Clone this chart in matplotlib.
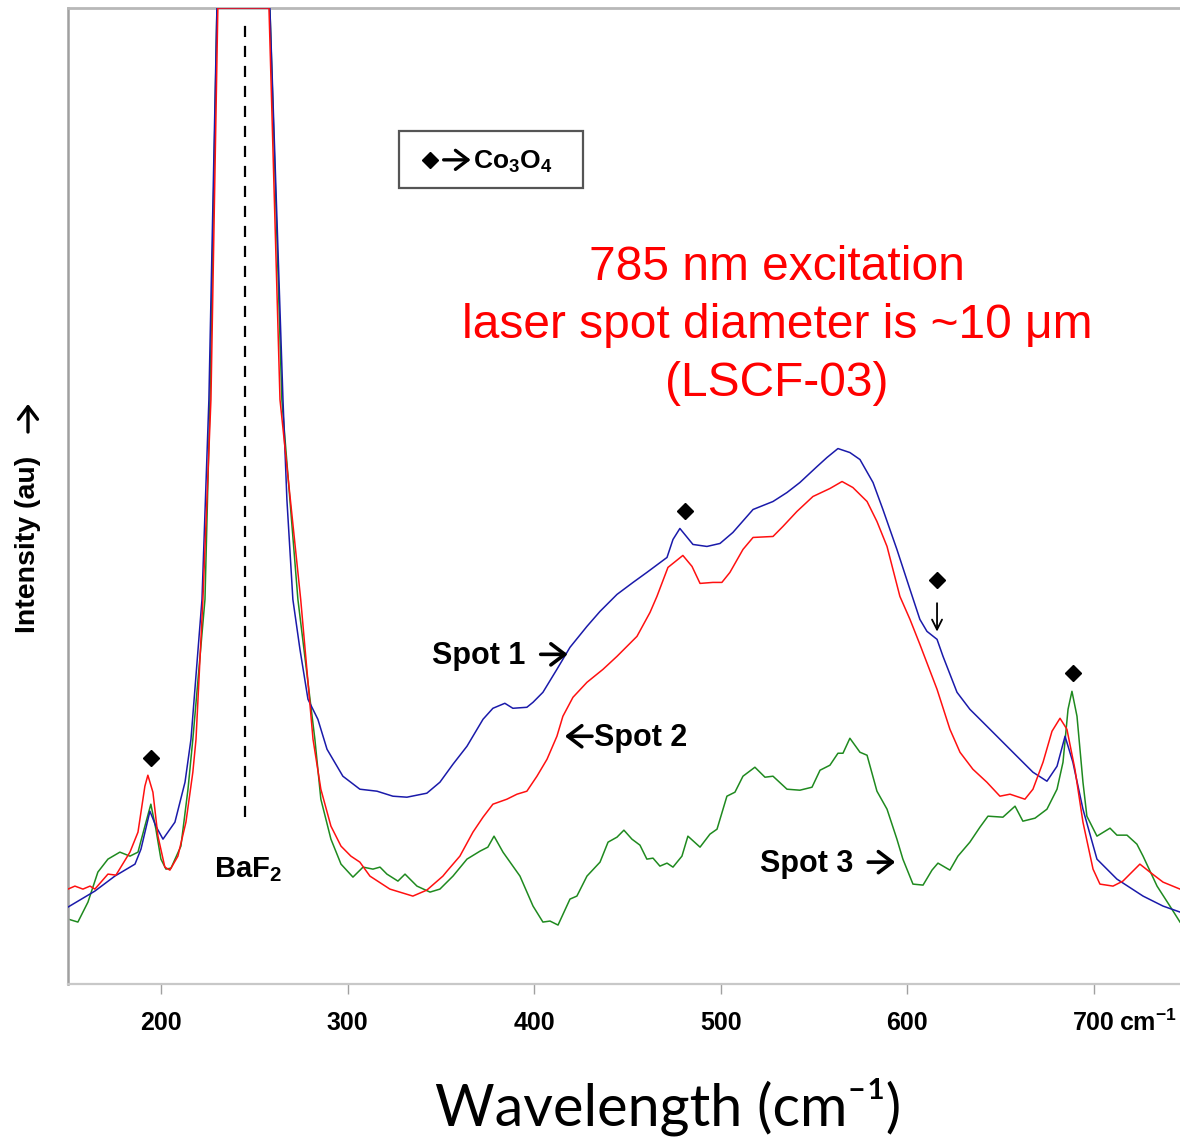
import matplotlib
matplotlib.use("Agg")
import matplotlib.pyplot as plt
from matplotlib.patches import Rectangle

plt.rcParams['font.family'] = ['Liberation Sans', 'DejaVu Sans']
plt.rcParams['mathtext.fontset'] = 'custom'
plt.rcParams['mathtext.rm'] = 'Liberation Sans'
plt.rcParams['mathtext.bf'] = 'Liberation Sans:bold'
plt.rcParams['mathtext.it'] = 'Liberation Sans:italic'

# ---------------- data (wavenumber cm-1, intensity au) ----------------
spot1_x = [150.2, 164.6, 175.3, 186.1, 189.3, 194.1, 197.3, 201.1, 207.5, 212.9, 216.1,
           222.0, 225.7, 230.0, 258.4, 265.4, 267.5, 270.7, 274.5, 278.8, 284.1, 289.0,
           297.5, 306.6, 315.8, 324.3, 331.8, 342.5, 349.5, 356.5, 364.0, 372.6, 377.9,
           384.3, 388.6, 396.1, 399.4, 404.7, 412.2, 419.2, 428.3, 435.3, 444.4, 453.0,
           460.4, 471.2, 474.4, 478.1, 485.1, 492.6, 499.6, 506.5, 517.3, 528.0, 535.5,
           542.4, 551.6, 556.9, 562.8, 569.2, 574.6, 581.6, 586.9, 594.4, 601.4, 606.7,
           610.5, 615.9, 619.1, 626.6, 633.5, 640.5, 648.0, 658.7, 667.3, 674.8, 680.2,
           684.5, 688.7, 694.1, 701.6, 712.3, 726.3, 737.0, 746.1]
spot1_y = [77, 93, 108, 120, 135, 173, 158, 145, 162, 202, 245,
           385, 585, 977, 977, 585, 485, 385, 335, 285, 265, 235,
           208, 195, 193, 188, 187, 191, 202, 220, 238, 265, 276,
           281, 276, 277, 282, 292, 315, 337, 358, 373, 390, 402,
           412, 427, 445, 456, 440, 438, 441, 452, 475, 483, 492,
           502, 518, 527, 536, 532, 525, 502, 475, 435, 395, 365,
           353, 345, 328, 292, 275, 262, 248, 228, 212, 203, 218,
           248, 222, 175, 125, 105, 88, 78, 72]

spot2_x = [150.2, 153.9, 158.2, 162.0, 164.6, 171.6, 175.9, 183.4, 187.7, 191.4, 193.0,
           195.7, 198.4, 202.1, 204.8, 209.1, 213.4, 217.1, 218.8, 222.5, 226.8, 230.5,
           257.9, 263.8, 274.9, 281.5, 285.7, 291.1, 296.5, 301.8, 306.6, 312.0, 322.7,
           335.0, 342.5, 351.1, 353.3, 360.2, 367.2, 372.6, 377.9, 385.4, 390.8, 396.1,
           401.5, 406.9, 412.2, 415.4, 420.8, 428.3, 436.9, 444.4, 455.1, 462.1, 465.8,
           471.7, 479.7, 484.6, 488.9, 495.8, 500.6, 504.9, 511.9, 517.3, 528.0, 533.3,
           540.8, 549.4, 558.5, 565.0, 570.8, 578.4, 583.7, 589.1, 596.0, 601.4, 606.7,
           615.9, 622.8, 628.2, 635.1, 642.6, 649.6, 655.0, 663.0, 667.3, 672.7, 677.5,
           681.8, 685.5, 689.8, 694.1, 699.5, 703.2, 710.2, 715.5, 724.6, 730.0, 737.0,
           746.1]
spot2_y = [95, 98, 95, 98, 95, 110, 109, 132, 152, 198, 209,
           192, 148, 117, 114, 128, 162, 212, 245, 385, 585, 977,
           977, 585, 385, 245, 195, 158, 138, 128, 122, 108, 95,
           88, 94, 108, 113, 128, 152, 167, 180, 185, 190, 193,
           208, 225, 248, 268, 287, 302, 315, 328, 348, 372, 388,
           417, 429, 418, 401, 402, 402, 412, 435, 447, 448, 458,
           473, 488, 496, 503, 497, 483, 463, 438, 388, 365, 340,
           295, 255, 232, 215, 202, 188, 190, 185, 195, 222, 253,
           266, 255, 215, 162, 115, 100, 98, 103, 120, 112, 102,
           95]

spot3_x = [150.2, 155.5, 160.9, 166.2, 171.6, 178.0, 183.4, 187.7, 191.4, 194.6, 197.3,
           200.0, 202.7, 205.4, 210.7, 214.5, 217.1, 223.6, 226.3, 230.0, 258.4, 264.8,
           273.4, 282.5, 285.7, 291.1, 296.5, 302.9, 308.3, 313.6, 317.4, 321.1, 327.0,
           330.8, 337.2, 344.2, 349.5, 356.5, 364.0, 371.0, 375.2, 378.5, 383.3, 392.4,
           399.4, 404.7, 408.5, 412.8, 419.2, 422.9, 428.3, 435.3, 439.6, 444.4, 448.1,
           452.4, 456.7, 460.4, 463.7, 467.4, 471.2, 474.4, 479.2, 482.4, 488.9, 494.2,
           498.0, 503.3, 507.6, 511.9, 518.3, 523.7, 528.0, 535.5, 542.4, 548.9, 553.2,
           558.5, 562.8, 565.5, 569.2, 574.6, 578.4, 583.7, 589.1, 594.4, 597.6, 603.0,
           608.4, 613.2, 616.4, 622.8, 627.1, 633.5, 638.9, 643.2, 651.2, 657.7, 661.9,
           668.4, 674.8, 680.2, 683.4, 686.1, 688.2, 690.9, 694.1, 696.2, 701.6, 708.6,
           712.3, 717.7, 723.0, 726.3, 733.8, 740.7, 746.1]
spot3_y = [65, 62, 82, 112, 125, 132, 128, 132, 158, 180, 155,
           125, 115, 116, 138, 195, 245, 385, 585, 977, 977, 585,
           385, 245, 185, 145, 120, 107, 117, 115, 117, 110, 103,
           110, 98, 92, 95, 108, 125, 133, 137, 148, 132, 108,
           78, 62, 63, 59, 85, 88, 108, 122, 142, 147, 154,
           145, 139, 125, 126, 118, 121, 117, 128, 148, 137, 150,
           155, 188, 192, 208, 217, 207, 208, 195, 194, 197, 214,
           219, 231, 231, 246, 232, 229, 193, 175, 145, 125, 100,
           99, 114, 121, 114, 128, 142, 157, 168, 167, 178, 163,
           166, 175, 195, 222, 275, 293, 268, 202, 168, 148, 156,
           149, 149, 140, 128, 98, 78, 62]

# Co3O4 peak markers (wavenumber, marker height)
co3o4_x = [194.6, 480.8, 615.9, 688.7]
co3o4_y = [226, 473, 404, 311]

baf2_x = 245.0
tick_values = [200, 300, 400, 500, 600, 700]
tick_labels = ['200', '300', '400', '500', '600', '700']

# ---------------- figure ----------------
W, H = 1180, 1139
fig = plt.figure(figsize=(W / 100, H / 100), dpi=100)
ax = fig.add_axes([68 / W, (H - 984) / H, (W - 68) / W, (984 - 8) / H])
ax.set_xlim(150.2, 746.1)
ax.set_ylim(0, 977)

ax.plot(spot1_x, spot1_y, color='#1a1aaa', lw=1.1, zorder=3)
ax.plot(spot2_x, spot2_y, color='#ff1010', lw=1.1, zorder=4)
ax.plot(spot3_x, spot3_y, color='#1f8a1f', lw=1.1, zorder=2)

ax.plot(co3o4_x, co3o4_y, linestyle='none', marker='D', markersize=8.5,
        color='black', zorder=5)

# BaF2 dashed line
ax.plot([baf2_x, baf2_x], [167, 962], color='black', lw=1.6,
        dashes=(5, 4), zorder=1)

# spines
ax.spines['right'].set_visible(False)
ax.spines['left'].set_color('#a0a0a0')
ax.spines['left'].set_linewidth(1.8)
ax.spines['top'].set_color('#b8b8b8')
ax.spines['top'].set_linewidth(2.0)
ax.spines['bottom'].set_color('#c8c8c8')
ax.spines['bottom'].set_linewidth(1.6)

ax.set_yticks([])
ax.set_xticks(tick_values)
ax.set_xticklabels(tick_labels, fontsize=18, fontweight='bold')
ax.tick_params(axis='x', direction='out', length=7.5, width=1.0,
               color='#a0a0a0', pad=12)

# cm-1 suffix for last tick label
ax.annotate('cm$^{\\mathbf{-1}}$', xy=(700, 0), xycoords='data',
            xytext=(18, -28), textcoords='offset points',
            ha='left', va='center', fontsize=18, fontweight='bold',
            annotation_clip=False)

heavy = dict(arrowstyle='->, head_length=0.5, head_width=0.38',
             color='black', lw=2.6, mutation_scale=20, shrinkA=0, shrinkB=0)


def arrow(x0, y0, x1, y1, zorder=5, **kw):
    ax.annotate('', xy=(x1, y1), xytext=(x0, y0), arrowprops=dict(heavy, **kw),
                annotation_clip=False, zorder=zorder)


# texts
ax.text(228.4, 107, 'BaF$_\\mathbf{2}$', fontsize=21, fontweight='bold',
        ha='left', va='baseline')
ax.text(345.2, 320, 'Spot 1', fontsize=22, fontweight='bold',
        ha='left', va='baseline')
arrow(403.5, 330, 418.0, 330)
arrow(431.0, 248, 416.5, 248)
ax.text(432.0, 238, 'Spot 2', fontsize=22, fontweight='bold',
        ha='left', va='baseline')
ax.text(521.0, 112, 'Spot 3', fontsize=22, fontweight='bold',
        ha='left', va='baseline')
arrow(579.0, 122, 593.5, 122)

red = '#ff0000'
ax.text(530.1, 705, '785 nm excitation', fontsize=34.5, color=red,
        ha='center', va='baseline')
ax.text(530.1, 647, 'laser spot diameter is ~10 \u03bcm', fontsize=34.5, color=red,
        ha='center', va='baseline')
ax.text(530.1, 589, '(LSCF-03)', fontsize=34.5, color=red,
        ha='center', va='baseline')

# down arrow
ax.annotate('', xy=(615.9, 350), xytext=(615.9, 384),
            arrowprops=dict(arrowstyle='->', color='black', lw=1.3,
                            mutation_scale=18))

# legend box
ax.add_patch(Rectangle((0.2977, 0.8158), 0.1655, 0.0583, transform=ax.transAxes,
                       facecolor='white', edgecolor='#555555', lw=1.6, zorder=6))
ax.plot([344.2], [825], linestyle='none', marker='D', markersize=8.5,
        color='black', zorder=7)
arrow(351.5, 825, 366.0, 825, zorder=8, lw=2.4, mutation_scale=18)
ax.text(367.0, 816, 'Co$_\\mathbf{3}$O$_\\mathbf{4}$', fontsize=19, fontweight='bold',
        ha='left', va='baseline', zorder=7)

# axis labels
fig.text(28 / W, (H - 633) / H, 'Intensity (au)', rotation=90,
         fontsize=20.5, fontweight='bold', ha='center', va='bottom')
fig.add_artist(matplotlib.patches.FancyArrowPatch(
    (28 / W, (H - 432) / H), (28 / W, (H - 404) / H), transform=fig.transFigure,
    arrowstyle='->, head_length=0.5, head_width=0.38', color='black', lw=2.4,
    mutation_scale=18, shrinkA=0, shrinkB=0))
fig.text(668 / W, (H - 1126) / H, 'Wavelength (cm\u207b\u00b9)',
         family=['Lato', 'DejaVu Sans'], fontsize=41.5, ha='center', va='baseline')

fig.savefig('out.png', dpi=100)
